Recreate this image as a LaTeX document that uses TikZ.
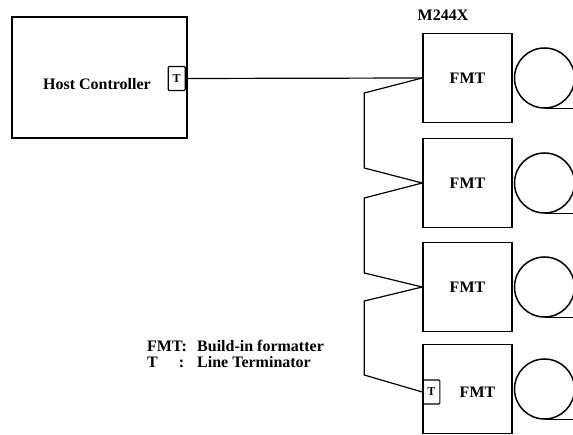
\documentclass[tikz,border=0pt]{standalone}
\usepackage{fontspec}
\setmainfont{Liberation Serif}
\usetikzlibrary{positioning, calc}
\tikzset{
  unit/.style={rectangle, draw, line width=1.5pt, minimum width=89pt, minimum height=89pt,
    inner sep=0pt, font=\fontsize{16}{18}\selectfont\bfseries},
  term/.style={rectangle, draw, line width=1.2pt, rounded corners=1pt, minimum width=17pt,
    minimum height=24pt, inner sep=0pt, font=\fontsize{12}{13}\selectfont\bfseries},
  reel/.style={circle, draw, line width=1.5pt, minimum size=60pt, inner sep=0pt},
  bus/.style={draw, line width=1.2pt},
  lbl/.style={inner sep=0pt, font=\fontsize{16}{16}\selectfont\bfseries}
}

\begin{document}
\begin{tikzpicture}[x=1pt, y=-1pt]
  \useasboundingbox (0,0) rectangle (573,435);

  % Host side
  \node[unit, minimum width=175pt, minimum height=121pt] (host) at (99.5,77.5) {};
  \node[lbl] (hostlbl) at (97,84) {Host Controller};
  \node[term, anchor=east] (thost) at ($(host.east)+(-2,1)$) {T};

  % Drive units with formatter
  \node[lbl] (model) at (443,15) {M244X};
  \node[unit] (f1) at (467.5,78) {FMT};
  \node[unit] (f2) at (467.5,183) {FMT};
  \node[unit] (f3) at (467.5,287) {FMT};
  \node[unit] (f4) at (467.5,389) {};
  \node[term, anchor=west] (t4) at ($(f4.west)+(0,3)$) {T};
  \node[lbl] (f4lbl) at ($(f4)+(10,3)$) {FMT};

  % Tape reels
  \foreach \i in {1,...,4}{
    \node[reel, right=1pt of f\i] (r\i) {};
    \draw[line width=1.5pt] (r\i.south) -- ++(32,0);
  }

  % Daisy chain
  \draw[bus] (thost.east) -- (f1.west);
  \draw[bus] (f1.west) -- ++(-58,15) -- ++(0,75) -- (f2.west);
  \draw[bus] (f2.west) -- ++(-58,15) -- ++(0,75) -- (f3.west);
  \draw[bus] (f3.west) -- ++(-58,14) -- ++(0,74) -- (t4.west);

  % Legend
  \node[lbl, anchor=north west, align=left] (legend) at (147,340) {%
    \makebox[50pt][l]{FMT:}Build-in formatter\\
    \makebox[50pt][l]{T\hspace{21pt}:}Line Terminator};
\end{tikzpicture}
\end{document}
